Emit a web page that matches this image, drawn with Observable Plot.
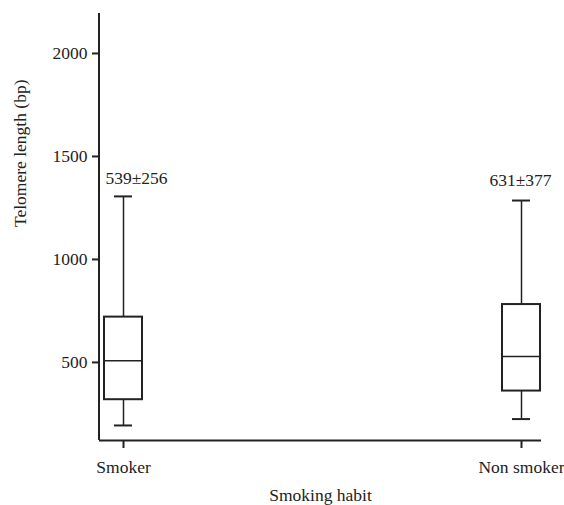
<!DOCTYPE html>
<html><head><meta charset="utf-8">
<script src="https://cdn.jsdelivr.net/npm/d3@7"></script>
<script src="https://cdn.jsdelivr.net/npm/@observablehq/plot@0.6"></script>
<style>
body{margin:0;background:#fff;}
#chart svg{display:block;}
#chart svg, #chart svg text{font-family:"Liberation Serif","Times New Roman",serif !important;}
</style>
</head><body><div id="chart"></div>
<script>
const groups = ["Smoker", "Non smoker"];
const whiskerLow = [194, 225];
const q1 = [319, 361];
const median = [508, 529];
const q3 = [720, 781];
const whiskerHigh = [1306, 1286];
const labels = ["539±256", "631±377"];
const yTicks = [500, 1000, 1500, 2000];
const yDomain = [121, 2194];
const yTitle = "Telomere length (bp)";
const xTitle = "Smoking habit";

const data = groups.map((g, i) => ({
  group: g, lo: whiskerLow[i], q1: q1[i], med: median[i], q3: q3[i], hi: whiskerHigh[i], label: labels[i]
}));

const ink = "#222";
const W = 564, H = 505, mL = 99, mR = 23, mT = 13, mB = 65;
const frameW = W - mL - mR;
const chart = Plot.plot({
  width: W, height: H,
  marginLeft: mL, marginRight: mR, marginTop: mT, marginBottom: mB,
  style: {fontFamily: "'Liberation Serif', serif", fontSize: "17.5px", color: ink, background: "white"},
  x: {type: "band", domain: groups, paddingInner: 0.905, paddingOuter: 0.0064, align: 0.78},
  y: {domain: yDomain},
  marks: [
    Plot.axisY({ticks: yTicks, tickFormat: "d", tickSize: 7, tickPadding: 5, label: null, strokeWidth: 2}),
    Plot.axisX({tickSize: 8, tickPadding: 12, label: null, strokeWidth: 2}),
    // axis lines
    Plot.ruleY([yDomain[0]], {stroke: ink, strokeWidth: 2}),
    Plot.rect([yDomain], {y1: d => d[0], y2: d => d[1], insetLeft: -1, insetRight: frameW - 1, fill: ink}),
    // whiskers
    Plot.ruleX(data, {x: "group", y1: "lo", y2: "q1", stroke: ink, strokeWidth: 1.5}),
    Plot.ruleX(data, {x: "group", y1: "q3", y2: "hi", stroke: ink, strokeWidth: 1.5}),
    Plot.tickY(data, {x: "group", y: "lo", stroke: ink, strokeWidth: 2, insetLeft: 10, insetRight: 10}),
    Plot.tickY(data, {x: "group", y: "hi", stroke: ink, strokeWidth: 2, insetLeft: 10, insetRight: 10}),
    // boxes
    Plot.barY(data, {x: "group", y1: "q1", y2: "q3", fill: "white", stroke: ink, strokeWidth: 2}),
    Plot.tickY(data, {x: "group", y: "med", stroke: ink, strokeWidth: 1.5}),
    // labels
    Plot.text(data.filter(d => d.group === groups[0]), {x: "group", y: "hi", text: "label", dx: 13, dy: -18, fill: ink}),
    Plot.text(data.filter(d => d.group === groups[1]), {x: "group", y: "hi", text: "label", dx: -1, dy: -20, fill: ink}),
    Plot.text([yTitle], {frameAnchor: "left", dx: -79, rotate: -90, fill: ink}),
    Plot.text([xTitle], {frameAnchor: "bottom", dy: 60, fill: ink})
  ]
});
document.getElementById("chart").append(chart);
</script>
</body></html>
